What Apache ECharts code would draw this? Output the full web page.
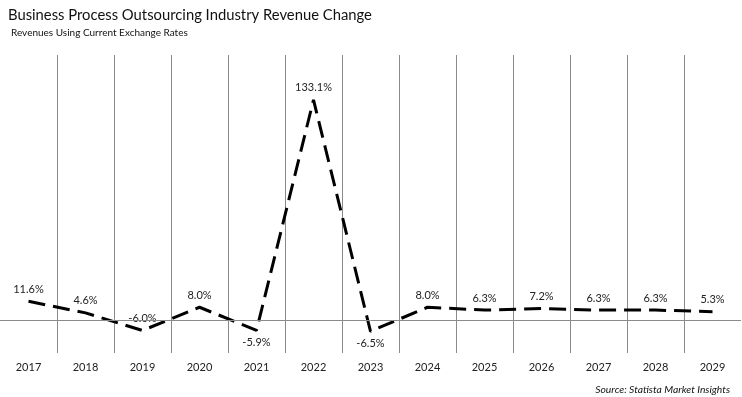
<!doctype html>
<html lang="en">
<head>
    <meta charset="UTF-8">
    <title>Business Process Outsourcing Industry Revenue Change</title>
    <script src="https://cdn.jsdelivr.net/npm/echarts@6/dist/echarts.min.js"></script>
    <style>
        html, body {
            margin: 0;
            padding: 0;
            background-color: white;
        }

        #mainChart {
            width: 742px;
            height: 397px;
        }
    </style>
</head>
<body>
<div id="mainChart"></div>
<script>
    // 数据
    const years = ['2017', '2018', '2019', '2020', '2021', '2022', '2023',
        '2024', '2025', '2026', '2027', '2028', '2029'];
    const revenueChange = [11.6, 4.6, -6.0, 8.0, -5.9, 133.1, -6.5, 8.0, 6.3, 7.2, 6.3, 6.3, 5.3];
    const labelsBelow = ['2021', '2023'];

    const fontName = 'Lato';

    function chartInit() {
        let myChart = echarts.init(document.getElementById('mainChart'));

        let seriesData = revenueChange.map(function (v, i) {
            return {
                value: v,
                label: {position: labelsBelow.indexOf(years[i]) >= 0 ? 'bottom' : 'top'}
            };
        });

        let option = {
            backgroundColor: '#ffffff',
            animation: false,
            title: [{
                text: 'Business Process Outsourcing Industry Revenue Change',
                left: 3,
                top: 3,
                textStyle: {fontFamily: fontName, fontSize: 14.8, fontWeight: 'normal', color: '#111'}
            }, {
                text: 'Revenues Using Current Exchange Rates',
                left: 6,
                top: 23,
                textStyle: {fontFamily: fontName, fontSize: 10, fontWeight: 'normal', color: '#111'}
            }, {
                text: 'Source: Statista Market Insights',
                right: 7,
                top: 380,
                textStyle: {fontFamily: fontName, fontSize: 10.3, fontStyle: 'italic', fontWeight: 'normal', color: '#111'}
            }],
            grid: {
                left: 0,
                right: 1,
                top: 55,
                bottom: 44
            },
            xAxis: {
                type: 'category',
                data: years,
                boundaryGap: true,
                axisLine: {show: false, onZero: false},
                axisTick: {show: false},
                axisLabel: {margin: 9, fontFamily: fontName, fontSize: 11, color: '#222'},
                splitLine: {
                    show: true,
                    showMinLine: false,
                    showMaxLine: false,
                    lineStyle: {color: '#8a8a8a', width: 1}
                }
            },
            yAxis: {
                type: 'value',
                min: -19.6,
                max: 160.2,
                show: false,
                splitLine: {show: false}
            },
            series: [{
                name: 'Revenue change',
                type: 'line',
                data: seriesData,
                symbol: 'circle',
                symbolSize: 1,
                itemStyle: {color: 'rgba(0,0,0,0)'},
                lineStyle: {color: '#000', width: 3, type: [17, 8]},
                label: {
                    show: true,
                    distance: 6,
                    fontFamily: fontName,
                    fontSize: 11,
                    color: '#222',
                    formatter: function (p) {
                        return p.value.toFixed(1) + '%';
                    }
                },
                markLine: {
                    silent: true,
                    symbol: 'none',
                    label: {show: false},
                    lineStyle: {color: '#8a8a8a', width: 1, type: 'solid'},
                    data: [{yAxis: 0}]
                }
            }]
        };

        option && myChart.setOption(option);
    }

    chartInit();
</script>
</body>
</html>
